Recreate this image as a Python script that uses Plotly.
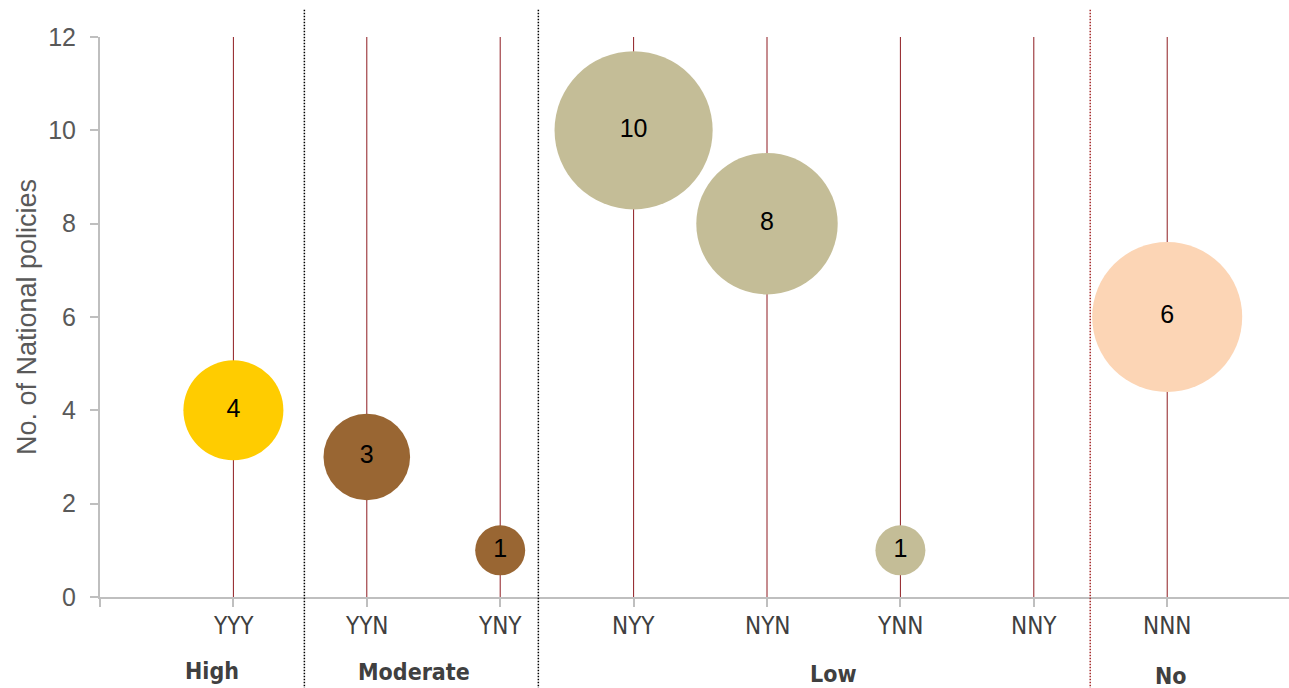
import numpy as np
import plotly.graph_objects as go

# Policy profile codes along the x axis
categories = ["YYY", "YYN", "YNY", "NYY", "NYN", "YNN", "NNY", "NNN"]
# Number of national policies for each profile (NNY has none)
policy_counts = [4, 3, 1, 10, 8, 1, None, 6]
# Bubble size variable for each profile
bubble_sizes = [4, 3, 1, 10, 8, 1, 0, 9]
# Coherence level of each profile, used for colouring
levels = ["High", "Moderate", "Moderate", "Low", "Low", "Low", "Low", "No"]

level_colors = {"High": "#FFCC00", "Moderate": "#996633", "Low": "#C4BD97", "No": "#FCD5B5"}
y_max = 12

x_pos = np.arange(1, len(categories) + 1)

fig = go.Figure()

# Thin dark-red drop lines spanning the full value range at every profile
line_x, line_y = [], []
for x in x_pos:
    line_x += [x, x, None]
    line_y += [0, y_max, None]
fig.add_trace(go.Scatter(
    x=line_x, y=line_y, mode="lines",
    line=dict(color="#8E1B20", width=1),
    hoverinfo="skip", showlegend=False,
))

# Bubbles with their counts written inside
mask = [v is not None for v in policy_counts]
fig.add_trace(go.Scatter(
    x=[x for x, m in zip(x_pos, mask) if m],
    y=[v for v in policy_counts if v is not None],
    mode="markers+text",
    text=[str(v) for v in policy_counts if v is not None],
    textposition="middle center",
    textfont=dict(family="Liberation Sans, Arial, sans-serif", size=25, color="#000000"),
    marker=dict(
        size=[s for s, m in zip(bubble_sizes, mask) if m],
        sizemode="area", sizeref=1 / 1250,
        color=[level_colors[l] for l, m in zip(levels, mask) if m],
        line=dict(width=0), opacity=1,
    ),
    hoverinfo="skip", showlegend=False,
))

axis_grey = "#BFBFBF"
label_grey = "#595959"

fig.update_xaxes(
    range=[0, 8.913], showgrid=False, zeroline=False,
    showline=True, linecolor=axis_grey, linewidth=2,
    tickmode="array", tickvals=[0] + list(x_pos), ticktext=[""] * (len(categories) + 1),
    ticks="outside", ticklen=8, tickcolor=axis_grey, tickwidth=2,
)
fig.update_yaxes(
    range=[0, y_max], dtick=2, showgrid=False, zeroline=False,
    showline=True, linecolor=axis_grey, linewidth=2,
    ticks="outside", ticklen=8, tickcolor=axis_grey, tickwidth=2,
    tickfont=dict(family="Liberation Sans, Arial, sans-serif", size=25, color=label_grey),
    ticklabelstandoff=9,
    title=dict(text="No. of National policies", standoff=4,
               font=dict(family="Liberation Sans, Arial, sans-serif", size=27, color=label_grey)),
)

narrow = "Liberation Sans Narrow, DejaVu Sans Condensed, Arial Narrow, sans-serif"
annotations = []
# Profile labels under the axis
for x, c in zip(x_pos, categories):
    annotations.append(dict(
        x=x, y=0, xref="x", yref="y", yshift=-29, text=c, showarrow=False,
        yanchor="middle", font=dict(family=narrow, size=24, color="#404040"),
    ))
# Coherence group labels
for text, gx, shift in [("High", 0.843, -74), ("Moderate", 2.357, -75),
                        ("Low", 5.496, -77), ("No", 8.03, -79)]:
    annotations.append(dict(
        x=gx, y=0, xref="x", yref="y", yshift=shift, text=f"<b>{text}</b>", showarrow=False,
        yanchor="middle", font=dict(family=narrow, size=23, color="#404040"),
    ))

# Dotted separators between groups
shapes = []
for sx, col in [(1.532, "#000000"), (3.286, "#000000"), (7.423, "#A52A2A")]:
    shapes.append(dict(
        type="line", xref="x", yref="paper", x0=sx, x1=sx, y0=-0.17, y1=1.05,
        line=dict(color=col, width=1.5, dash="1.5px,1.5px"),
    ))

fig.update_layout(
    width=1289, height=688,
    margin=dict(l=100, r=0, t=37, b=91),
    paper_bgcolor="white", plot_bgcolor="white",
    annotations=annotations, shapes=shapes,
    showlegend=False,
)

fig.write_html("out.html")
